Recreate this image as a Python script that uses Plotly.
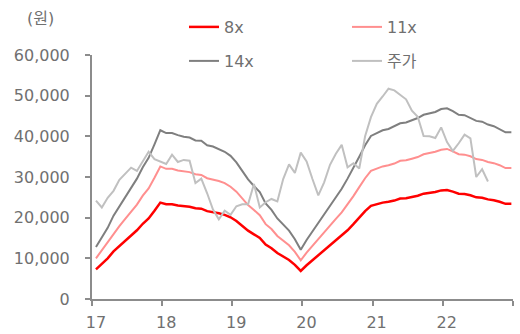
import plotly.graph_objects as go

# monthly index (0 = Jan 2017)
months = list(range(72))

per8 = [7300, 8700, 10000, 11700, 13000, 14300, 15600, 16900, 18500, 19800, 21700, 23700,
        23300, 23300, 23000, 22800, 22700, 22300, 22200, 21600, 21400, 21100, 20700, 20100,
        19200, 18000, 16800, 15900, 15000, 13400, 12500, 11300, 10500, 9600, 8400, 6900,
        8300, 9500, 10700, 12000, 13200, 14300, 15500, 16900, 18400, 20000, 21600, 22900,
        23300, 23700, 23900, 24200, 24700, 24800, 25100, 25400, 25900, 26100, 26300, 26700,
        26800, 26400, 25900, 25800, 25500, 25000, 24900, 24500, 24300, 23900, 23400, 23400]

per11 = [10000, 12000, 13800, 16100, 17900, 19700, 21500, 23200, 25400, 27200, 29800, 32600,
         32000, 32000, 31600, 31400, 31200, 30700, 30500, 29700, 29400, 29000, 28500, 27600,
         26400, 24800, 23100, 21900, 20600, 18400, 17200, 15500, 14400, 13200, 11600, 9500,
         11400, 13100, 14700, 16500, 18200, 19700, 21300, 23200, 25300, 27500, 29700, 31500,
         32000, 32600, 32900, 33300, 34000, 34100, 34500, 34900, 35600, 35900, 36200, 36700,
         36900, 36300, 35600, 35500, 35100, 34400, 34200, 33700, 33400, 32900, 32200, 32200]

per14 = [12800, 15200, 17500, 20500, 22800, 25000, 27300, 29600, 32400, 34700, 38000, 41500,
         40800, 40800, 40300, 39900, 39700, 39000, 38900, 37800, 37500, 36900, 36200, 35200,
         33600, 31500, 29400, 27800, 26300, 23500, 21900, 19800, 18400, 16800, 14700, 12100,
         14500, 16600, 18700, 21000, 23100, 25000, 27100, 29600, 32200, 35000, 37800, 40100,
         40800, 41500, 41800, 42400, 43200, 43400, 43900, 44500, 45300, 45700, 46000, 46700,
         46900, 46200, 45300, 45200, 44600, 43800, 43600, 42900, 42500, 41800, 41000, 41000]

price = [24200, 22500, 24900, 26600, 29300, 30700, 32300, 31500, 33900, 36200, 34400, 33700,
         33200, 35500, 33700, 34200, 34000, 28500, 29600, 26000, 22000, 19600, 21700, 20700,
         22800, 23300, 23300, 28300, 22500, 23800, 24600, 24000, 29500, 33100, 31000, 36000,
         33800, 29500, 25500, 28700, 33000, 35700, 37900, 32400, 33400, 32100, 40000, 44700,
         48000, 49800, 51700, 51300, 50300, 49100, 46300, 44800, 40100, 40000, 39600, 42200,
         38600, 36400, 38300, 40400, 39500, 30000, 31900, 28900]

year_labels = ["17", "18", "19", "20", "21", "22", ""]
y_ticks = [0, 10000, 20000, 30000, 40000, 50000, 60000]

FONT = "DejaVu Sans, Noto Sans CJK KR, sans-serif"
TXT = "#707070"
AX = "#8c8c8c"

fig = go.Figure()
fig.add_trace(go.Scatter(x=months, y=per8, mode="lines", name="8x",
                         line=dict(color="#ff0000", width=2.5), legend="legend"))
fig.add_trace(go.Scatter(x=months, y=per11, mode="lines", name="11x",
                         line=dict(color="#ff8f8f", width=2), legend="legend"))
fig.add_trace(go.Scatter(x=months, y=per14, mode="lines", name="14x",
                         line=dict(color="#7f7f7f", width=2), legend="legend2"))
fig.add_trace(go.Scatter(x=months[:len(price)], y=price, mode="lines", name="주가",
                         line=dict(color="#c0c0c0", width=2), legend="legend2"))

tickpos = [-0.68 + 11.99 * k for k in range(len(year_labels))]

fig.update_layout(
    width=520, height=334,
    margin=dict(l=92, r=7, t=55, b=35),
    paper_bgcolor="white", plot_bgcolor="white",
    font=dict(family=FONT, size=16, color=TXT),
    xaxis=dict(range=[-0.68, 71.28], tickvals=tickpos, ticktext=year_labels,
               showgrid=False, zeroline=False, showline=True, linecolor=AX, linewidth=2,
               ticks="outside", ticklen=5, tickwidth=2, tickcolor=AX,
               ticklabelshift=4, ticklabelstandoff=3, automargin=False,
               tickfont=dict(family=FONT, size=16, color=TXT)),
    yaxis=dict(range=[0, 60000], tickvals=y_ticks, tickformat=",d",
               showgrid=False, zeroline=False, showline=True, linecolor=AX, linewidth=2,
               ticks="outside", ticklen=5, tickwidth=2, tickcolor=AX,
               ticklabelstandoff=12, automargin=False,
               tickfont=dict(family=FONT, size=16, color=TXT)),
    legend=dict(orientation="h", x=(184 - 92) / 421, y=(299 - 27) / 244,
                xanchor="left", yanchor="middle", entrywidth=118,
                bgcolor="rgba(0,0,0,0)", font=dict(family=FONT, size=16, color=TXT)),
    legend2=dict(orientation="h", x=(184 - 92) / 421, y=(299 - 61) / 244,
                 xanchor="left", yanchor="middle", entrywidth=118,
                 bgcolor="rgba(0,0,0,0)", font=dict(family=FONT, size=16, color=TXT)),
    annotations=[dict(text="(원)", x=(25 - 92) / 421, y=(299 - 18) / 244,
                      xref="paper", yref="paper", xanchor="left", yanchor="middle",
                      showarrow=False, font=dict(family=FONT, size=16, color=TXT))],
)

fig.write_html("out.html")
